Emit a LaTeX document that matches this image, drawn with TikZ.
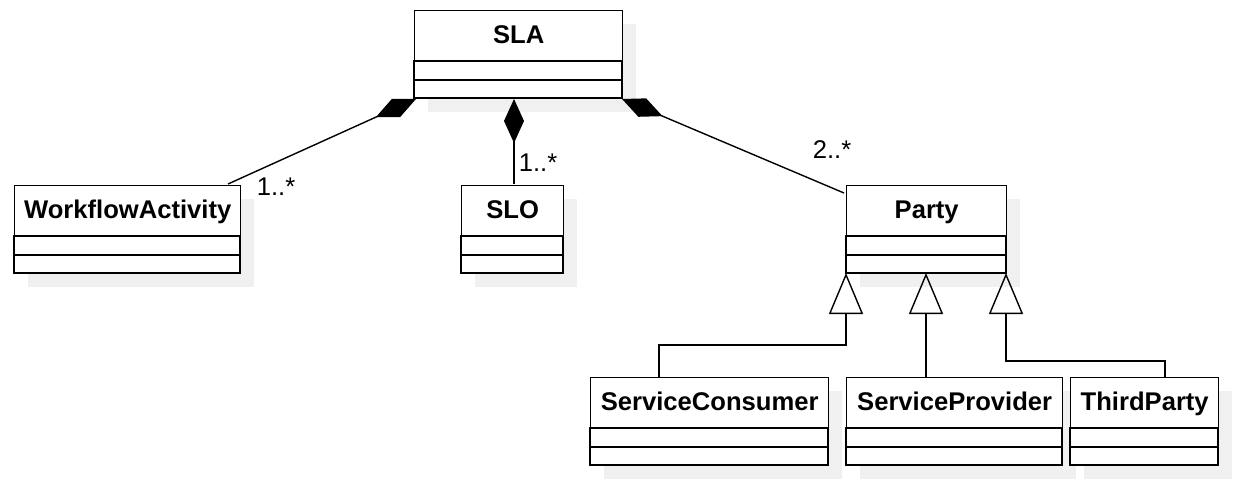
\documentclass[tikz,border=0pt]{standalone}
\usepackage{fontspec}
\setmainfont{Liberation Sans}
\usetikzlibrary{arrows.meta,backgrounds}

% one UML class: name, left x, top y, width, label
\newcommand{\umlclass}[5]{%
  \begin{scope}[on background layer]
    \fill[gray!12] (#2+14,#3+14) rectangle ++(#4,88);
  \end{scope}
  \node[class head, minimum width=#4*0.5pt, anchor=north west] (#1) at (#2,#3) {#5};
  \draw[fill=white] (#2,#3+51) rectangle ++(#4,19);
  \draw[fill=white] (#2,#3+70) rectangle ++(#4,18);
}

\begin{document}
\begin{tikzpicture}[x=0.5pt, y=-0.5pt, line width=0.7pt,
    class head/.style={draw, fill=white, minimum height=25.5pt, inner sep=0pt,
      text height=9.5pt, text depth=2.5pt,
      font=\fontsize{12.8}{15}\selectfont\bfseries},
    composition/.style={{Diamond[length=22pt, width=10pt]}-},
    generalization/.style={{Triangle[open, length=20.5pt, width=17pt]}-},
    mult/.style={font=\fontsize{12.8}{15}\selectfont, inner sep=0pt}
]
\useasboundingbox (0,0) rectangle (1252,486);

% Classes
\umlclass{sla}{414}{10}{208}{SLA}
\umlclass{wa}{14}{185}{226}{WorkflowActivity}
\umlclass{slo}{461}{185}{102}{SLO}
\umlclass{party}{846}{185}{160}{Party}
\umlclass{consumer}{590}{377}{238}{ServiceConsumer}
\umlclass{provider}{846}{377}{216}{ServiceProvider}
\umlclass{third}{1070}{377}{148}{ThirdParty}

% Attachment points
\coordinate (sla-w) at (416,99);
\coordinate (sla-c) at (514,99);
\coordinate (sla-e) at (622,99);
\coordinate (wa-top) at (228,184);
\coordinate (slo-top) at (514,184);
\coordinate (party-top) at (844,193);
\coordinate (gen-c) at (846,273);
\coordinate (gen-p) at (926,273);
\coordinate (gen-t) at (1006,273);
\coordinate (consumer-top) at (659,377);
\coordinate (provider-top) at (926,377);
\coordinate (third-top) at (1165,377);

% Compositions
\draw[composition] (sla-w) -- (wa-top);
\draw[composition] (sla-c) -- (slo-top);
\draw[composition] (sla-e) -- (party-top);
\node[mult] at (276,187) {1..*};
\node[mult] at (538,163) {1..*};
\node[mult] at (832,150) {2..*};

% Generalizations
\draw[generalization] (gen-c) -- (846,345) -| (consumer-top);
\draw[generalization] (gen-p) -- (provider-top);
\draw[generalization] (gen-t) -- (1006,361) -| (third-top);

\end{tikzpicture}
\end{document}
